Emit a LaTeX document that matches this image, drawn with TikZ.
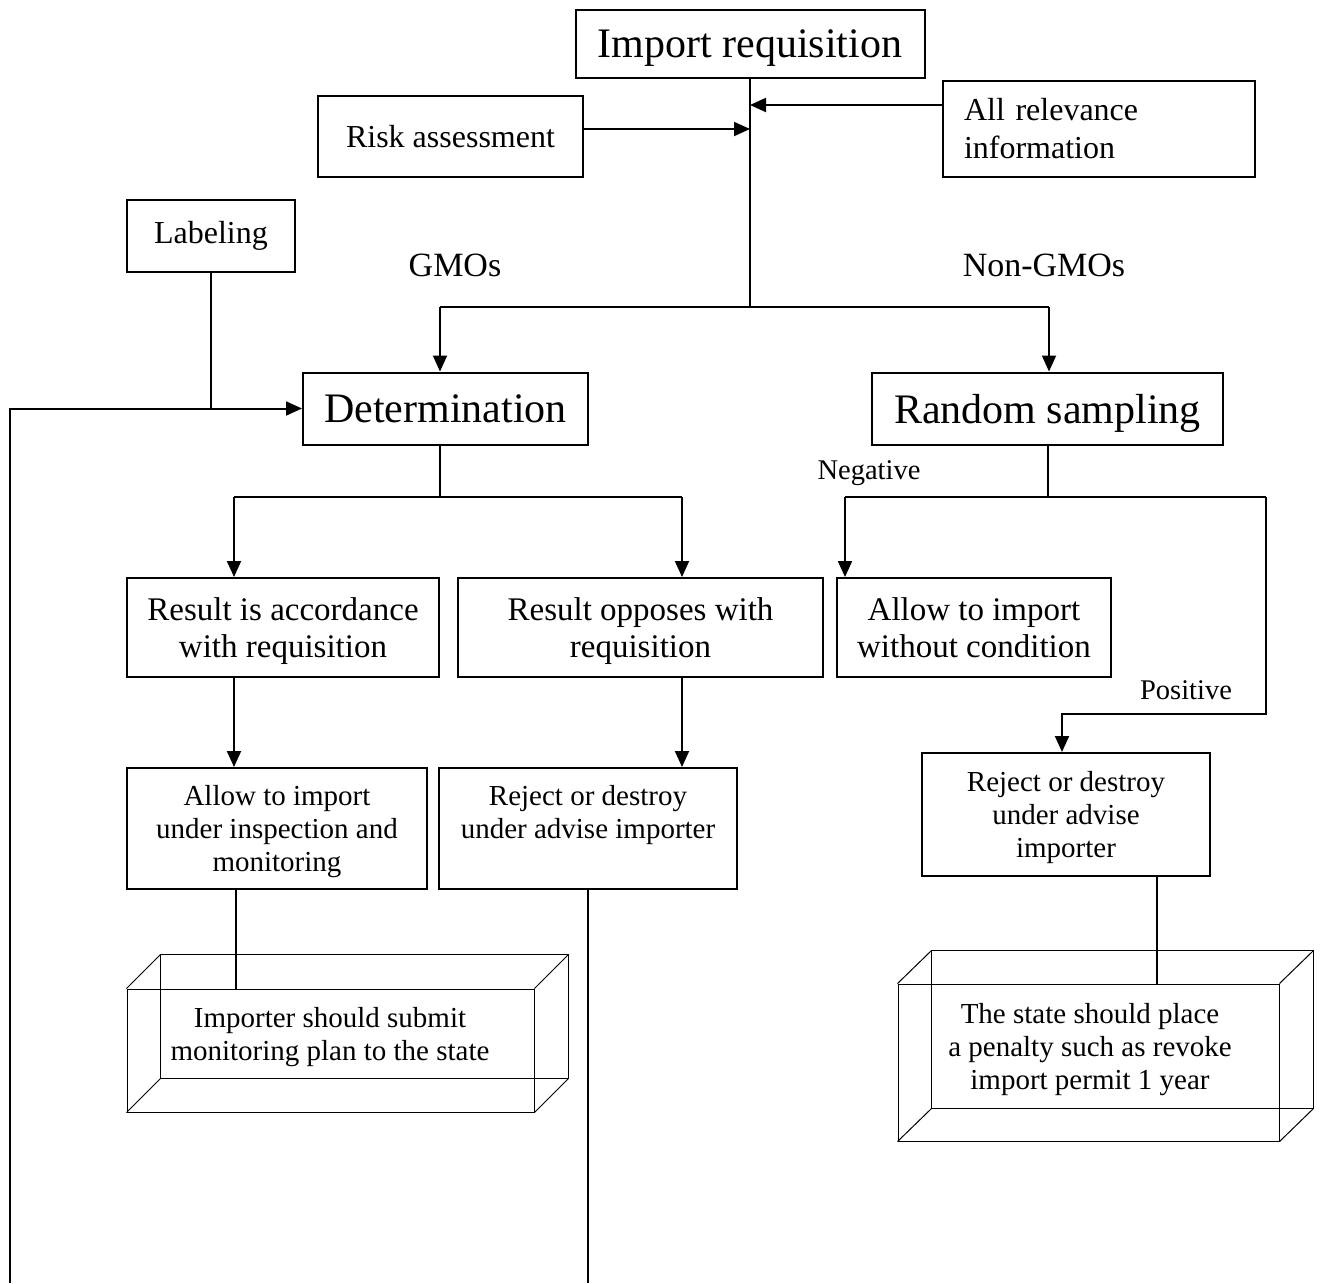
\documentclass[tikz,border=0pt]{standalone}
\usepackage{fontspec}
\setmainfont{Liberation Serif}
\usetikzlibrary{arrows.meta}

\tikzset{
  box/.style 2 args={draw, line width=2pt, inner sep=0pt, align=center,
    minimum width=#1, minimum height=#2},
  flat/.style={text depth=0pt},
  fbig/.style={font=\fontsize{42}{48}\selectfont},
  fmid/.style={font=\fontsize{33}{37}\selectfont},
  frisk/.style={font=\fontsize{32}{38}\selectfont},
  fsmall/.style={font=\fontsize{29}{33}\selectfont, align=center},
  ftag/.style={font=\fontsize{34}{40}\selectfont},
  fcase/.style={font=\fontsize{28.5}{33}\selectfont},
  cube/.style={draw, line width=1pt},
  link/.style={line width=2pt},
  arr/.style={line width=2pt, -{Triangle[length=16pt,width=14pt]}},
}

\begin{document}
\begin{tikzpicture}[x=1pt,y=-1pt]
\useasboundingbox (0,0) rectangle (1321,1283);

% ---- boxes ----
\node[box={349pt}{68pt}, fbig, flat]  (imp)  at (750,44)    {Import requisition};
\node[box={265pt}{81pt}, frisk] (risk) at (450.5,136.5) {Risk assessment};
\node[box={312pt}{96pt}, frisk, align=left, text width=270pt] (info) at (1099,129) {All relevance\\information};
\node[box={168pt}{72pt}, frisk] (lab)  at (211,236)     {Labeling};
\node[box={285pt}{72pt}, fbig]  (det)  at (445.5,408.5) {Determination};
\node[box={351pt}{72pt}, fbig, flat]  (rand) at (1047.5,408.5) {Random sampling};
\node[box={312pt}{99pt}, fmid, flat]  (acc)  at (283,627.5)   {Result is accordance\\with requisition};
\node[box={365pt}{99pt}, fmid, flat]  (opp)  at (640.5,627.5) {Result opposes with\\requisition};
\node[box={274pt}{99pt}, fmid]  (free) at (974,627.5)   {Allow to import\\without condition};
\node[box={300pt}{121pt}, fsmall, flat] (insp) at (277,828.5) {Allow to import\\under inspection and\\monitoring};
\node[box={298pt}{121pt}, fsmall] (rejA) at (588,828.5) {Reject or destroy\\under advise importer\\\mbox{}};
\node[box={288pt}{123pt}, fsmall, flat] (rejB) at (1066,814.5) {Reject or destroy\\under advise\\importer};

% ---- cuboids ----
\node[cube, inner sep=0pt, minimum width=407pt, minimum height=123pt] (planL) at (330.5,1050.5) {};
\draw[cube] ([shift={(34,-34)}]planL.north west) rectangle ([shift={(34,-34)}]planL.south east);
\foreach \c in {north west, north east, south west, south east}
  \draw[cube] (planL.\c) -- ++(34,-34);
\node[fsmall] (planLtext) at (330,1037.5) {Importer should submit\\monitoring plan to the state};

\node[cube, inner sep=0pt, minimum width=381pt, minimum height=157pt] (planR) at (1088.5,1062.5) {};
\draw[cube] ([shift={(34,-33)}]planR.north west) rectangle ([shift={(34,-33)}]planR.south east);
\foreach \c in {north west, north east, south west, south east}
  \draw[cube] (planR.\c) -- ++(34,-33);
\node[fsmall] (planRtext) at (1090,1050) {The state should place\\a penalty such as revoke\\import permit 1 year};

% ---- labels ----
\node[ftag]  (gmoTag)  at (455,265)  {GMOs};
\node[ftag]  (ngmoTag) at (1044,265) {Non-GMOs};
\node[fcase] (negTag)  at (869,473)  {Negative};
\node[fcase] (posTag)  at (1186,690) {Positive};

% ---- junction points ----
\coordinate (split) at (750,307);
\coordinate (gmo)   at (440,307);
\coordinate (ngmo)  at (1049,307);
\coordinate (dj)    at (440,497);
\coordinate (dl)    at (234,497);
\coordinate (dr)    at (682,497);
\coordinate (rj)    at (1048,497);
\coordinate (rl)    at (845,497);
\coordinate (rr)    at (1266,497);
\coordinate (rp)    at (1062,714);
\coordinate (ip)    at (236,889);
\coordinate (bp)    at (1157,876);
\coordinate (rA)    at ([yshift=7.5pt]risk.east);
\coordinate (iA)    at ([yshift=24pt]info.west);
\coordinate (loopEnd) at (10,1283);
\coordinate (rejEnd)  at (588,1283);

% ---- connectors ----
\draw[link] (imp.south) -- (split);
\draw[arr] (rA) -- (rA -| split);
\draw[arr] (iA) -- (iA -| split);
\draw[link] (gmo) -- (ngmo);
\draw[arr] (gmo) -- (gmo |- det.north);
\draw[arr] (ngmo) -- (ngmo |- rand.north);

\draw[link] (lab.south) -- (lab.south |- det.west);
\draw[arr] (loopEnd) |- (det.west);

\draw[link] (dj |- det.south) -- (dj);
\draw[link] (dl) -- (dr);
\draw[arr] (dl) -- (dl |- acc.north);
\draw[arr] (dr) -- (dr |- opp.north);

\draw[link] (rj |- rand.south) -- (rj);
\draw[link] (rl) -- (rr);
\draw[arr] (rl) -- (rl |- free.north);
\draw[arr] (rr) |- (rp) -- (rp |- rejB.north);

\draw[arr] (dl |- acc.south) -- (dl |- insp.north);
\draw[arr] (dr |- opp.south) -- (dr |- rejA.north);

\draw[link] (ip |- insp.south) -- (ip |- planL.north);
\draw[link] (rejA.south) -- (rejEnd);
\draw[link] (bp |- rejB.south) -- (bp |- planR.north);
\end{tikzpicture}
\end{document}
